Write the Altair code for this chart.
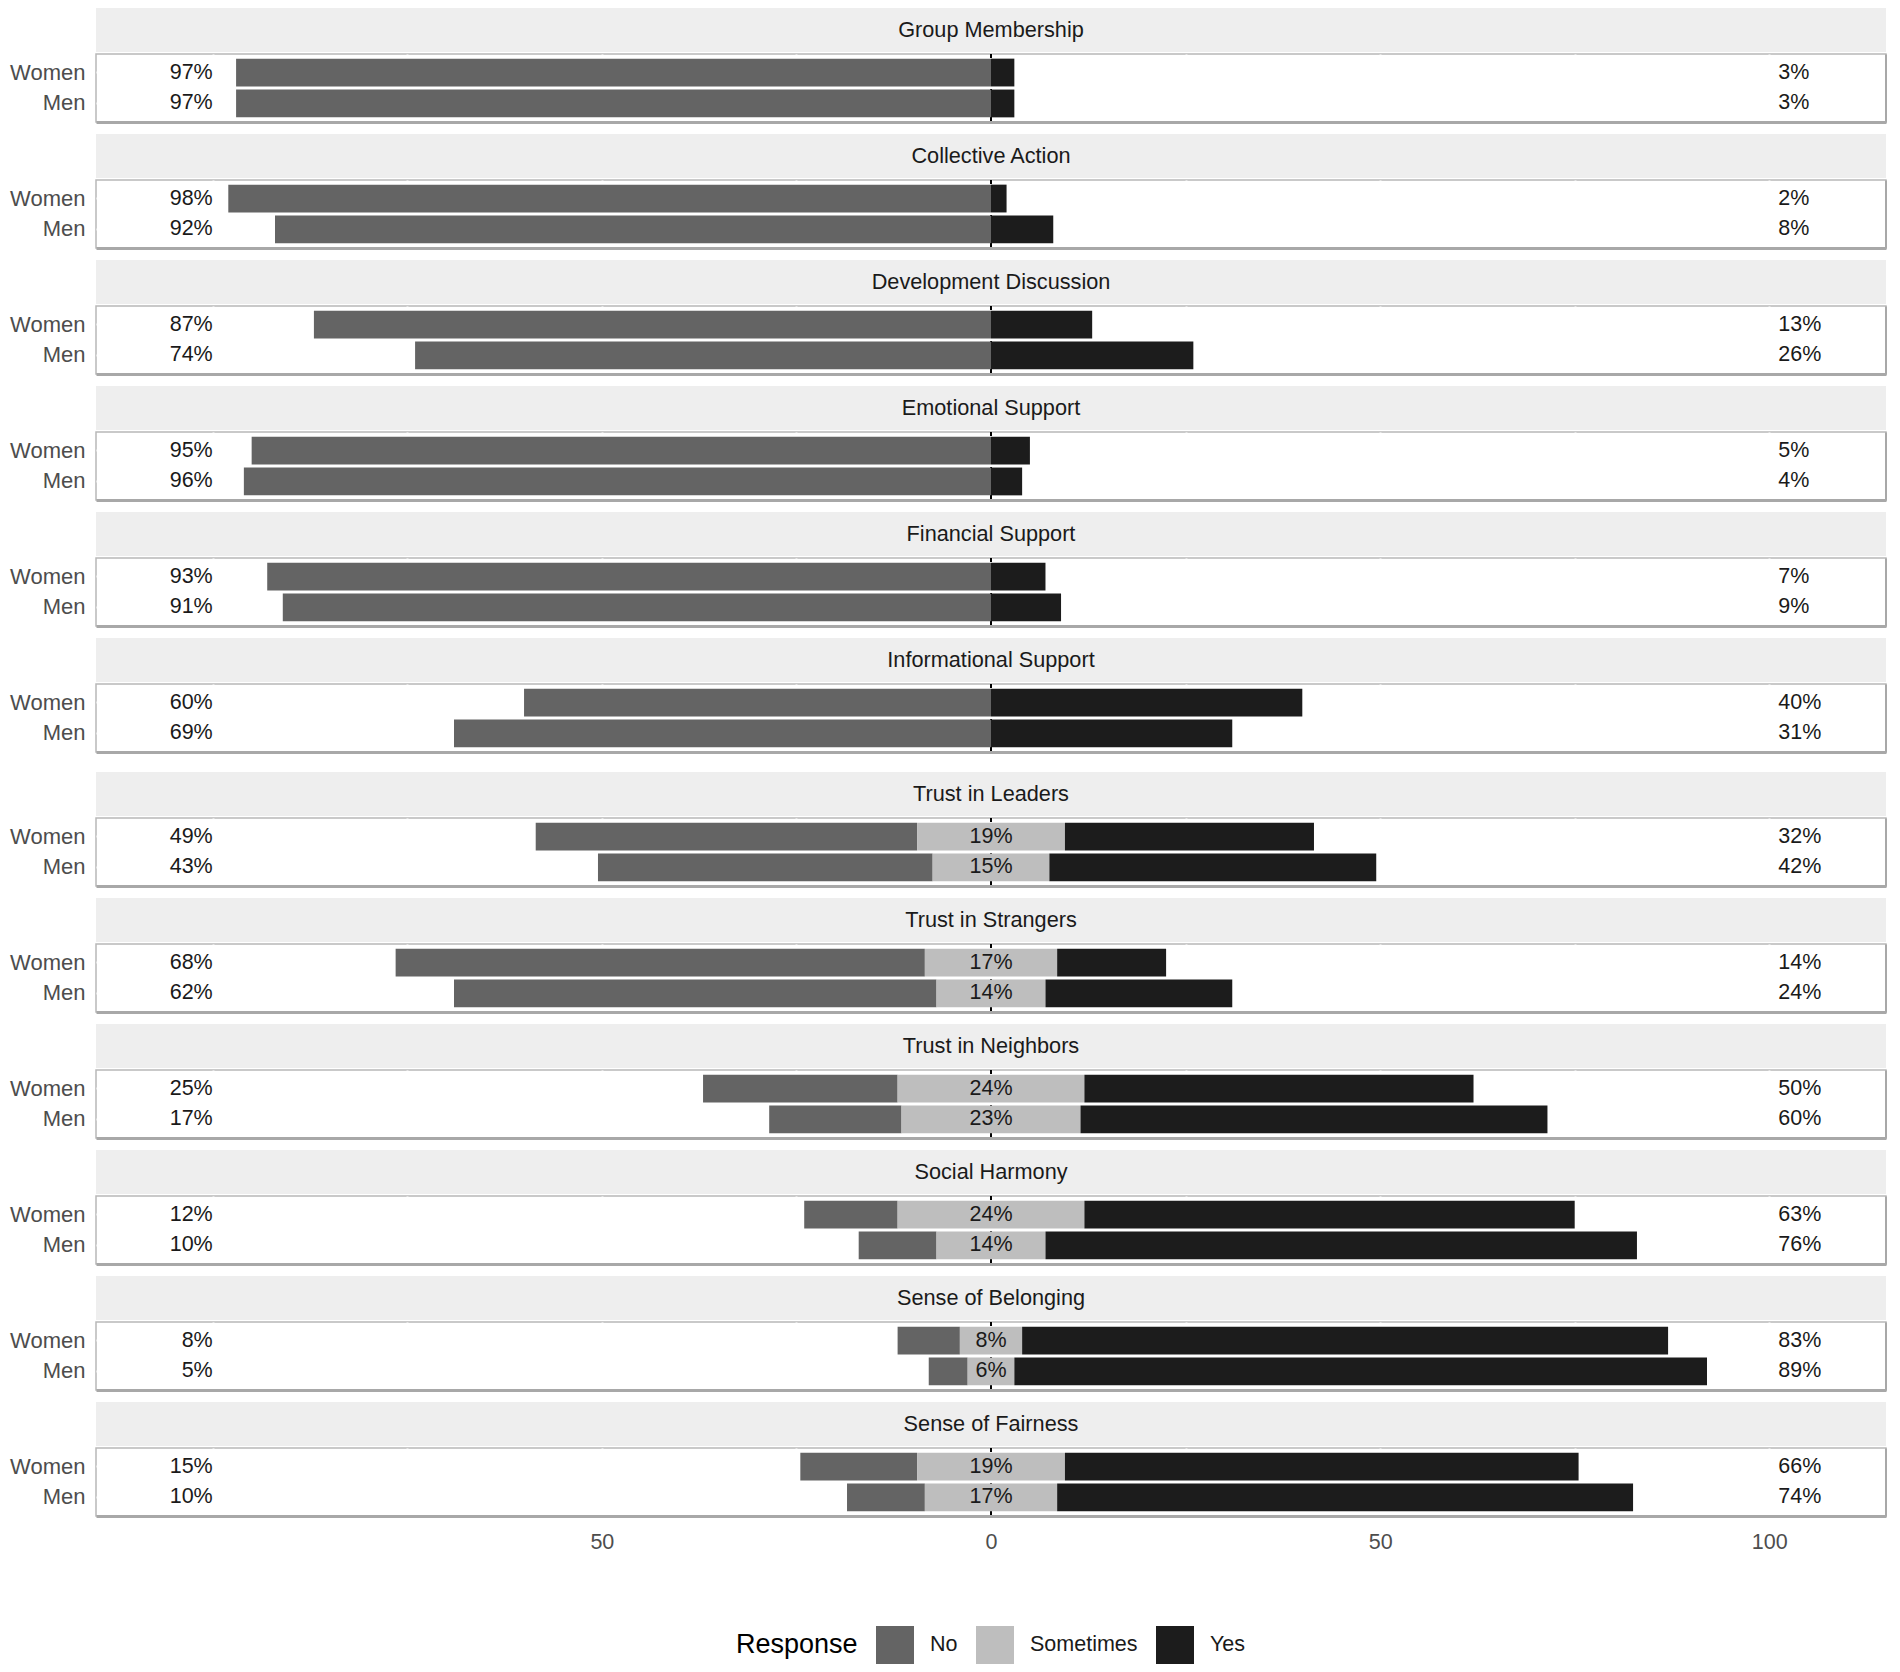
import altair as alt
import pandas as pd

items = ["Group Membership", "Collective Action", "Development Discussion",
         "Emotional Support", "Financial Support", "Informational Support",
         "Trust in Leaders", "Trust in Strangers", "Trust in Neighbors",
         "Social Harmony", "Sense of Belonging", "Sense of Fairness"]
genders = ["Women", "Men"]
no_women = [97, 98, 87, 95, 93, 60, 49, 68, 25, 12, 8, 15]
sometimes_women = [0, 0, 0, 0, 0, 0, 19, 17, 24, 24, 8, 19]
yes_women = [3, 2, 13, 5, 7, 40, 32, 14, 50, 63, 83, 66]
no_men = [97, 92, 74, 96, 91, 69, 43, 62, 17, 10, 5, 10]
sometimes_men = [0, 0, 0, 0, 0, 0, 15, 14, 23, 14, 6, 17]
yes_men = [3, 8, 26, 4, 9, 31, 42, 24, 60, 76, 89, 74]
responses = ["No", "Sometimes", "Yes"]
colors = ["#646464", "#BEBEBE", "#1C1C1C"]
x_grid = [-100, -75, -50, -25, 0, 25, 50, 75, 100]
x_labeled = [-50, 0, 50, 100]

W = 1790
STRIP_H = 44
PANEL_H = 68
EXT = 87
FONT = "Liberation Sans"

yscale = alt.Scale(domain=genders, paddingInner=0.1, paddingOuter=0.15)
xscale = alt.Scale(domain=[-115, 115], nice=False, zero=False)


def strip(i):
    df = pd.DataFrame({"t": [items[i]]})
    return alt.Chart(df).mark_text(fontSize=21.7, color="#1A1A1A", font=FONT).encode(
        y=alt.Y("t:N", axis=alt.Axis(labels=False, ticks=False, domain=False, grid=False,
                                      title=None, minExtent=EXT, maxExtent=EXT)),
        x=alt.value(W / 2),
        text="t:N",
    ).properties(width=W, height=STRIP_H,
                 view=alt.ViewBackground(fill="#EEEEEE", stroke="#EEEEEE", strokeWidth=0))


def panel(i, last):
    vals = {
        "Women": (no_women[i], sometimes_women[i], yes_women[i]),
        "Men": (no_men[i], sometimes_men[i], yes_men[i]),
    }
    rows = []
    labs = []
    for g in genders:
        n, s, y = vals[g]
        h = s / 2
        rows.append(dict(gender=g, response="No", start=-h - n, end=-h))
        if s > 0:
            rows.append(dict(gender=g, response="Sometimes", start=-h, end=h))
        rows.append(dict(gender=g, response="Yes", start=h, end=h + y))
        labs.append(dict(gender=g, no=f"{n}%", some=(f"{s}%" if s > 0 else ""), yes=f"{y}%"))
    bars_df = pd.DataFrame(rows)
    lab_df = pd.DataFrame(labs)

    if last:
        expr = "indexof([" + ",".join(str(v) for v in x_labeled) + \
               "], datum.value) >= 0 ? format(abs(datum.value), 'd') : ''"
        xaxis = alt.Axis(title=None, values=x_grid, labelExpr=expr, labelFontSize=21.5,
                         labelColor="#4D4D4D", labelPadding=15, labelFont=FONT,
                         ticks=False, domain=True, domainColor="#A8A8A8", domainWidth=3,
                         grid=True, gridColor="white", gridWidth=2)
    else:
        xaxis = alt.Axis(title=None, values=x_grid, labels=False, ticks=False,
                         domain=True, domainColor="#A8A8A8", domainWidth=3,
                         grid=True, gridColor="white", gridWidth=2)

    yaxis = alt.Axis(title=None, labelFontSize=22, labelColor="#4D4D4D", labelPadding=11,
                     labelFont=FONT, ticks=False, domain=False, grid=True, gridColor="white",
                     gridWidth=2, bandPosition=0.5, minExtent=EXT, maxExtent=EXT)

    zero = alt.Chart(bars_df).mark_rule(color="black", strokeDash=[4, 3], strokeWidth=1.5).encode(
        x=alt.datum(0)
    )
    bars = alt.Chart(bars_df).mark_bar().encode(
        x=alt.X("start:Q", scale=xscale, axis=xaxis),
        x2="end:Q",
        y=alt.Y("gender:N", scale=yscale, axis=yaxis),
        color=alt.Color("response:N", scale=alt.Scale(domain=responses, range=colors),
                        legend=alt.Legend(title="Response", orient="none", legendX=640, legendY=1618,
                                          direction="horizontal", titleOrient="left",
                                          symbolType="square", symbolSize=1444,
                                          symbolStrokeWidth=0, labelOffset=16,
                                          columnPadding=18, titlePadding=18,
                                          labelFontSize=21.5, titleFontSize=27,
                                          titleFontWeight="normal", titleColor="black",
                                          labelColor="#1A1A1A", labelFont=FONT, titleFont=FONT)),
    )
    mid = alt.Chart(lab_df).mark_text(fontSize=21.5, color="#1A1A1A", font=FONT).encode(
        x=alt.datum(0),
        y=alt.Y("gender:N", scale=yscale, axis=None),
        text="some:N",
    )
    left = alt.Chart(lab_df).mark_text(fontSize=21.5, color="#1A1A1A", font=FONT, align="right").encode(
        x=alt.datum(-100),
        y=alt.Y("gender:N", scale=yscale, axis=None),
        text="no:N",
    )
    right = alt.Chart(lab_df).mark_text(fontSize=21.5, color="#1A1A1A", font=FONT, align="left", dx=9).encode(
        x=alt.datum(100),
        y=alt.Y("gender:N", scale=yscale,
                axis=alt.Axis(orient="right", labels=False, ticks=False, grid=False, title=None,
                              domain=True, domainColor="#A8A8A8", domainWidth=3)),
        text="yes:N",
    )
    return alt.layer(zero, bars, mid, left, right).resolve_axis(y="independent").properties(
        width=W, height=PANEL_H)


def block(i, last=False):
    return alt.vconcat(strip(i), panel(i, last), spacing=0)


group1 = alt.vconcat(*[block(i) for i in range(6)], spacing=10)
group2 = alt.vconcat(*[block(i, last=(i == 11)) for i in range(6, 12)], spacing=10)

chart = alt.vconcat(group1, group2, spacing=18).properties(
    padding={"left": 0, "top": 0, "right": 0, "bottom": 0}
).configure(font=FONT).configure_view(stroke="#B8B8B8", strokeWidth=1.5)

chart.save("out.html", embed_options={"renderer": "svg", "actions": False})
